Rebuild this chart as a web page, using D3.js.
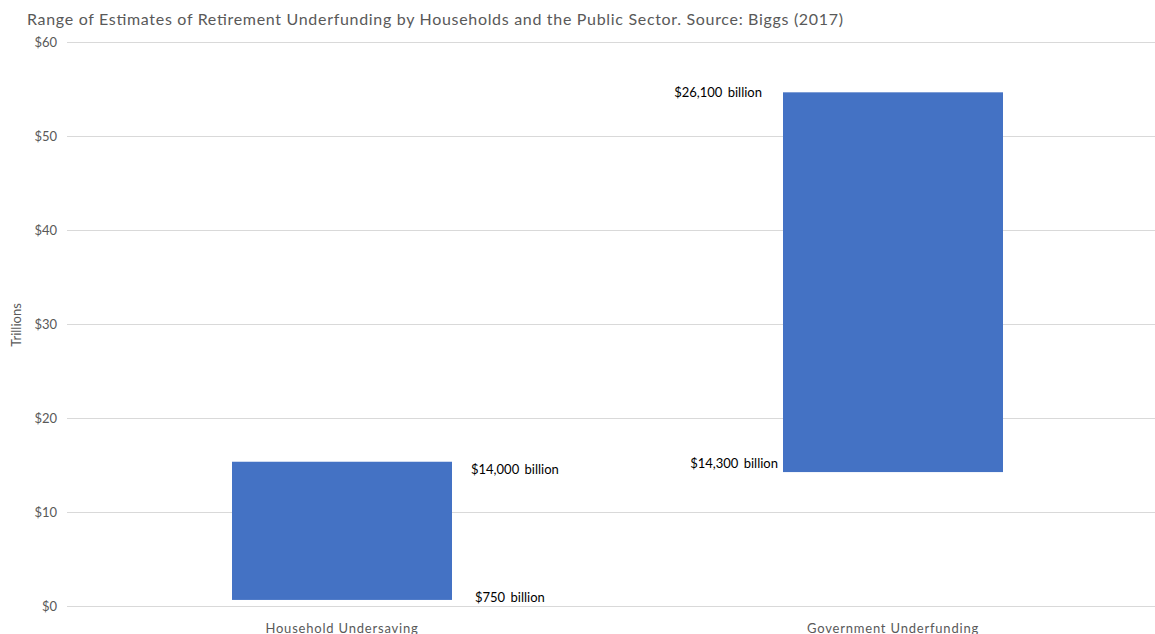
<!DOCTYPE html>
<html>
<head>
<meta charset="utf-8">
<script src="https://cdn.jsdelivr.net/npm/d3@7"></script>
<style>
  body { margin: 0; background: #fff; }
  text { font-family: Lato, "Liberation Sans", sans-serif; }
</style>
</head>
<body>
<svg></svg>
<script>
const categories = ["Household Undersaving", "Government Underfunding"];
const lows = [0.7, 14.3];
const highs = [15.4, 54.7];
const lowLabels = ["$750 billion", "$14,300 billion"];
const highLabels = ["$14,000 billion", "$26,100 billion"];
const yTicks = [0, 10, 20, 30, 40, 50, 60];

const width = 1155;
const height = 634;
const svg = d3.select("svg").attr("width", width).attr("height", height);

const x = d3.scaleBand().domain(categories).range([66.5, 1168.5]).paddingInner(0).paddingOuter(0);
const y = d3.scaleLinear().domain([0, 60]).range([606.5, 42.5]);
const barW = 220;

// gridlines
svg.append("g")
  .selectAll("line")
  .data(yTicks)
  .join("line")
  .attr("x1", 67)
  .attr("x2", width)
  .attr("y1", (d) => y(d))
  .attr("y2", (d) => y(d))
  .attr("stroke", "#d9d9d9")
  .attr("stroke-width", 1);

const yAxis = d3.axisLeft(y).tickValues(yTicks).tickSize(0).tickPadding(0).tickFormat((d) => "$" + d);
const yAxisG = svg.append("g").attr("transform", "translate(57,0)").call(yAxis);
yAxisG.select(".domain").remove();
yAxisG.selectAll("text").attr("fill", "#595959").style("font-size", "13px");

svg.append("text")
  .attr("transform", "translate(21,325) rotate(-90)")
  .attr("text-anchor", "middle")
  .attr("fill", "#595959")
  .style("font-size", "13px")
  .text("Trillions");

const xAxis = d3.axisBottom(x).tickSize(0).tickPadding(0);
const xAxisG = svg.append("g").attr("transform", "translate(0,624)").call(xAxis);
xAxisG.select(".domain").remove();
xAxisG.selectAll("text")
  .attr("fill", "#595959")
  .attr("dy", "0.71em")
  .style("font-size", "13px")
  .style("letter-spacing", "0.8px");

// floating bars
svg.append("g")
  .selectAll("rect")
  .data(categories)
  .join("rect")
  .attr("x", (d) => x(d) + x.bandwidth() / 2 - barW / 2)
  .attr("width", barW)
  .attr("y", (d, i) => y(highs[i]))
  .attr("height", (d, i) => y(lows[i]) - y(highs[i]))
  .attr("fill", "#4472c4");

// data labels: household on the right, government on the left
const labelG = svg.append("g").style("font-size", "13px").style("word-spacing", "2px").attr("fill", "#000");
categories.forEach((c, i) => {
  const left = x(c) + x.bandwidth() / 2 - barW / 2;
  const right = left + barW;
  if (i === 0) {
    labelG.append("text").attr("x", right + 19).attr("y", y(highs[i]) + 12).text(highLabels[i]);
    labelG.append("text").attr("x", right + 23).attr("y", y(lows[i]) + 2).text(lowLabels[i]);
  } else {
    labelG.append("text").attr("x", left - 21).attr("y", y(highs[i]) + 5).attr("text-anchor", "end").text(highLabels[i]);
    labelG.append("text").attr("x", left - 5).attr("y", y(lows[i]) - 4).attr("text-anchor", "end").text(lowLabels[i]);
  }
});

svg.append("text")
  .attr("x", 27)
  .attr("y", 25)
  .attr("fill", "#595959")
  .style("font-size", "16px")
  .attr("textLength", 816)
  .attr("lengthAdjust", "spacing")
  .text("Range of Estimates of Retirement Underfunding by Households and the Public Sector. Source: Biggs (2017)");
</script>
</body>
</html>
